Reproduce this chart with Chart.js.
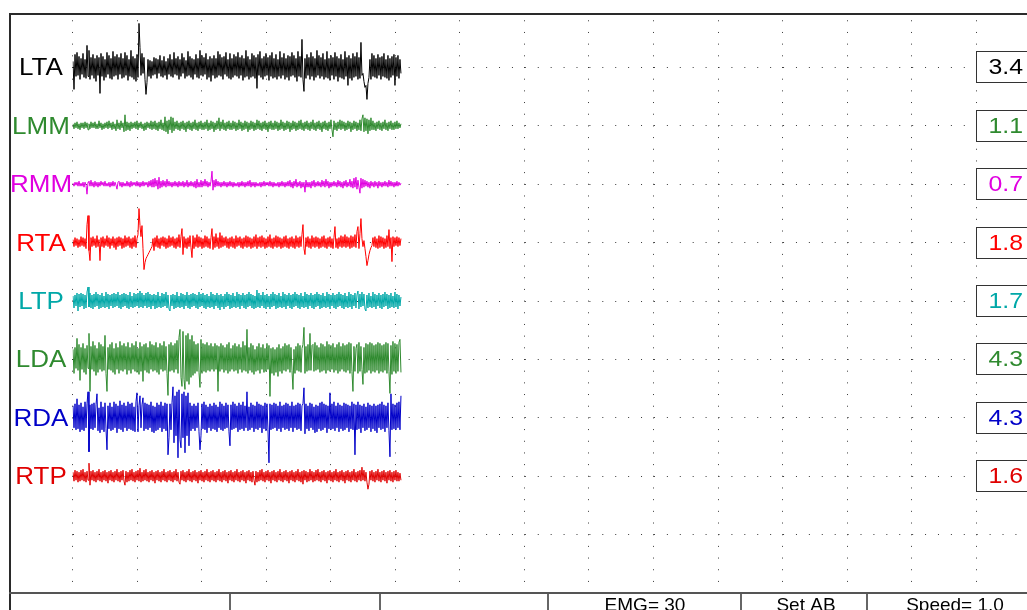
<!DOCTYPE html>
<html><head><meta charset="utf-8">
<script src="https://cdn.jsdelivr.net/npm/chart.js@4/dist/chart.umd.min.js"></script>
<style>html,body{margin:0;padding:0;background:#fff;overflow:hidden}canvas{display:block}</style>
</head><body>
<canvas id="c" width="1027" height="610"></canvas>
<script>
// ---- data ----
const channels = ['LTA','LMM','RMM','RTA','LTP','LDA','RDA','RTP'];
const channelColors = ['#000000','#2f8a2f','#e000e0','#ff0000','#00a8a8','#2f8a2f','#0000c8','#e00000'];
const rmsValues = ['3.4','1.1','0.7','1.8','1.7','4.3','4.3','1.6'];
const statusLabels = ['EMG= 30','Set AB','Speed= 1.0'];
const baselines = [9,8,7,6,5,4,3,2];          // divisions from the bottom
const UNITS_PER_DIV = 58.4;                   // amplitude units per division
const T0 = 1.007, DT = 0.01549;               // sweep start and sample interval (divisions)

const LTA = [6,-22,13,-9,15,-8,11,-12,9,-7,14,-10,8,-11,22,-9,17,-12,10,-8,
13,-11,9,-14,12,-8,10,-26,14,-9,11,-13,8,-10,15,-7,12,-11,9,-12,
16,-9,11,-8,13,-12,10,-7,14,-11,9,-10,15,-8,12,-13,8,-9,17,-10,
11,-12,9,-14,13,-10,44,20,-8,14,-6,10,-12,-27,-15,8,-9,7,-11,6,
-8,10,-7,9,-11,8,-6,12,-9,7,-10,11,-8,6,-12,9,-7,13,-9,8,
-10,15,-7,9,-8,11,-12,8,-9,14,-6,10,-11,7,-9,16,-8,11,-10,9,
-12,8,-7,13,-10,9,-11,17,-8,12,-9,10,-7,14,-12,8,-10,11,-14,9,
-8,12,-11,9,-10,16,-8,13,-9,10,-12,11,-7,15,-9,8,-11,14,-12,9,
-10,13,-8,11,-9,15,-11,10,-8,12,-13,9,-10,17,-9,11,-12,8,-10,14,
-9,12,-11,10,-21,13,-8,16,-10,9,-12,11,-9,14,-8,10,-13,12,-9,15,
-11,9,-10,13,-12,8,-9,16,-11,10,-8,14,-12,9,-10,12,-13,11,-9,15,
-8,12,-10,9,-14,16,-9,11,-10,28,-12,-24,9,-11,13,-8,10,-12,15,-9,
11,-13,9,-10,17,-8,12,-11,10,-9,14,-12,8,-10,16,-11,9,-13,12,-8,
10,-12,15,-9,11,-14,9,-10,13,-11,8,-12,16,-9,10,-18,12,-11,9,-13,
14,-10,11,-9,15,-12,10,-11,25,-8,-6,-14,-20,-18,-32,-16,-10,8,-12,14,
-9,12,-10,9,-11,13,-8,10,-12,11,-9,14,-10,8,-11,12,-13,9,-10,11,
-8,13,-18,10,-9,12,-11,8,-6];
const LMM = [2,-3,3,-2,4,-3,2,-4,3,-2,3,-3,4,-2,3,-4,2,-3,4,-2,
3,-2,4,-3,2,-3,5,-2,3,-4,2,-3,3,-2,4,-3,5,-2,3,-4,
4,-3,2,-5,6,-3,3,-4,5,-2,3,-6,11,-5,4,-4,3,-5,4,-3,
3,-2,4,-3,5,-4,3,-2,4,-3,2,-5,3,-4,4,-2,3,-3,5,-4,
4,-3,5,-4,3,-5,4,-3,6,-4,3,-5,9,-6,5,-8,6,-4,9,-7,
8,-5,4,-3,5,-4,3,-5,4,-3,5,-4,3,-6,4,-3,5,-4,3,-5,
4,-3,6,-4,3,-5,4,-3,5,-4,3,-4,4,-3,6,-5,3,-4,5,-3,
4,-6,3,-4,5,-3,8,-5,4,-3,6,-4,3,-5,4,-3,5,-4,3,-4,
5,-3,4,-5,3,-4,6,-3,4,-5,3,-4,5,-3,4,-6,3,-4,5,-3,
4,-5,3,-4,6,-3,5,-4,3,-5,4,-3,5,-4,3,-6,4,-3,5,-4,
3,-4,5,-3,4,-5,3,-4,6,-3,4,-5,3,-4,5,-3,4,-6,3,-4,
5,-3,4,-5,3,-4,5,-3,6,-4,3,-5,4,-3,5,-4,3,-5,4,-3,
6,-4,3,-5,4,-3,5,-4,3,-6,4,-3,5,-4,3,-5,4,-3,6,-4,
-11,5,-4,3,-5,4,-3,6,-4,5,-3,4,-5,3,-4,5,-3,4,-6,3,
-4,5,-3,4,-5,3,-4,6,-5,7,11,-6,8,-5,7,-8,6,-5,8,-4,
5,-4,3,-5,4,-3,5,-4,3,-5,4,-3,6,-4,3,-5,4,-3,5,-4,
3,-4,4,-3,5,-3,3,-2,2];
const RMM = [1,-2,2,-1,2,-2,3,-2,1,-2,2,-3,2,-1,-10,2,3,-2,4,-2,
2,-3,3,-2,2,-3,2,-2,3,-1,2,-2,3,-2,1,-2,2,-3,2,-2,
3,-2,2,-1,-5,2,3,-2,2,-3,2,-2,1,-2,3,-2,2,-3,3,-2,
2,-1,2,-2,3,-2,2,-3,2,-2,3,-2,2,-1,2,-3,3,-2,4,-3,
5,-3,6,-2,4,-5,7,-4,3,-3,4,-2,3,-3,5,-2,3,-2,2,-3,
2,-2,3,-2,2,-3,3,-2,2,-2,3,-3,2,-2,4,-3,2,-2,3,-2,
2,-3,3,-4,5,-3,2,-3,4,-3,3,-2,5,-2,3,-3,2,-2,3,13,
-6,4,-3,5,-2,3,-2,2,-3,2,-2,3,-2,2,-3,2,-2,3,-2,2,
-3,2,-2,1,-2,2,-3,2,-2,3,-2,2,-3,2,-2,3,-2,4,-3,2,
-2,2,-3,2,-2,1,-2,2,-3,2,-2,3,-2,2,-1,2,-2,3,-2,2,
-3,2,-2,1,-2,2,-3,2,-2,3,-2,2,-3,2,-2,3,-2,4,-3,2,
-4,3,-2,5,-3,2,-2,3,-4,2,-3,2,-8,4,-3,2,-3,2,-4,3,
-2,4,-3,2,-2,3,-2,2,-3,4,-2,3,-3,5,-2,3,-4,2,-3,2,
-2,3,-2,2,-3,4,-2,3,-3,2,-4,3,-2,4,-3,2,-2,5,-3,3,
-4,6,-3,7,-5,4,-3,-9,6,-4,5,-3,4,-2,3,-3,2,-4,3,-2,
2,-3,3,-2,2,-4,3,-2,2,-3,2,-2,3,-2,2,-3,4,-2,3,-2,
2,-3,2,-2,3,-2,2,-1,1];
const RTA = [3,-4,5,-3,4,-5,3,-4,6,-3,5,-4,4,-6,18,27,-8,-18,5,-4,
6,-3,4,-5,7,-4,3,-18,5,-4,6,-5,4,-3,7,-4,5,-6,4,-3,
6,-5,4,-7,5,-4,6,-3,5,-6,4,-5,7,-4,5,-3,6,-5,4,-6,
5,-4,7,-5,4,8,34,17,6,17,-6,-27,-20,-16,-14,-12,-10,-8,-6,-4,
4,-8,5,-4,7,-5,4,-6,5,-3,6,-4,5,-6,4,-5,7,-4,5,-3,
6,-5,4,-6,5,-4,8,-5,6,14,-12,6,-5,4,-6,5,-4,7,-5,-15,
7,-6,5,-4,8,-5,6,-4,5,-6,4,-5,7,-4,6,-5,4,-6,5,14,
-7,6,-5,9,-4,5,-6,10,-5,7,-4,5,-3,6,-5,4,-6,5,-4,6,
-5,4,-6,7,-4,5,-3,6,-5,4,-6,5,-4,7,-5,6,-4,5,-6,4,
-5,6,-4,8,-6,5,-4,6,-5,7,-4,5,-6,4,-5,6,-4,8,-5,4,
-6,5,-4,7,-5,6,-4,5,-6,4,-5,6,-4,7,-5,4,-6,5,-4,6,
-5,4,-6,7,-4,5,-5,6,-4,8,18,-6,-12,5,-4,6,-5,4,-6,7,
-4,5,-5,6,-4,5,-6,4,-5,6,-4,7,-5,4,-6,5,-4,6,-5,4,
-6,5,16,-5,4,-6,5,-4,7,-5,6,-4,8,-5,6,-4,5,-6,7,-5,
6,-4,8,-5,11,16,-6,9,24,4,-4,2,-6,-14,-23,-18,-12,-8,-5,-3,
5,-4,6,-5,4,-6,7,-5,6,-4,5,-6,4,-5,7,-4,13,-6,5,-19,
6,-4,5,-3,6,-4,5,-3,4];
const LTP = [5,-7,6,-5,8,-10,7,-6,8,-5,7,-8,6,-7,9,14,-6,8,-7,6,
-8,7,-6,9,-5,7,-8,6,-7,8,-6,5,-7,9,-6,7,-8,6,-5,7,
-7,8,-6,7,-5,9,-7,6,-8,7,-6,8,-5,7,-7,6,-8,9,-6,5,
-7,8,-6,7,-5,8,-7,10,-6,8,-7,6,-5,8,-7,9,-6,7,-8,6,
-5,7,-8,6,-7,9,-6,5,-7,8,-6,7,-5,9,-7,6,-8,-10,6,-5,
7,-8,6,-7,9,-6,5,-7,8,-6,7,-8,6,-5,9,-7,6,-8,7,-6,
8,-5,7,-7,6,-8,9,-6,7,-5,8,-7,6,-8,7,-6,5,-7,9,-6,
7,-8,6,-5,8,-7,6,-9,7,-6,5,-8,7,-6,9,-5,7,-8,6,-7,
8,-6,5,-7,9,-6,7,-8,6,-5,8,-7,6,-8,7,-6,9,-5,7,-7,
6,-8,5,-7,11,-6,8,-7,6,-5,9,-7,6,-8,7,-6,5,-8,7,-6,
9,-5,7,-8,6,-7,8,-6,5,-7,9,-6,7,-8,6,-5,8,-7,6,-8,
7,-6,9,-5,7,-7,6,-8,8,-6,5,-7,9,-6,7,-8,6,-5,8,-7,
6,-8,7,-6,9,-5,7,-8,6,-7,8,-6,5,-7,9,-6,7,-8,6,-5,
8,-7,6,-8,7,-6,9,-5,7,-7,6,-8,8,-6,5,-7,9,-6,7,-8,
6,-5,8,-7,6,10,-8,7,-6,9,-5,7,-8,-10,6,-7,8,-6,5,-7,
9,-6,7,-8,6,-5,8,-7,6,-8,7,-6,9,-5,7,-8,6,-7,8,-6,
5,-7,9,-6,7,-8,6,-5,4];
const LDA = [10,-14,12,-9,21,-11,15,-21,12,-10,16,-13,11,-15,14,-9,26,-32,13,-10,
18,-12,14,-16,11,-13,17,-10,15,-12,13,-11,24,-14,-32,12,-10,15,-11,17,
-13,11,-15,16,-10,12,-14,18,-11,14,-12,16,-10,13,-15,17,-11,12,-14,16,
-10,14,-12,18,-13,11,-15,17,-12,13,-22,15,-11,16,-13,12,-14,18,-10,15,
-12,14,-11,17,-13,12,-15,16,-10,14,-12,18,-11,13,-14,-36,15,-12,17,-11,
14,-13,16,-10,19,-14,22,30,-18,-27,28,-20,-30,24,-22,26,-25,20,-18,24,
-16,18,-14,15,-12,16,-13,-28,20,-14,16,-12,15,-13,17,-11,14,-12,16,-10,
13,-12,16,-10,14,-32,13,-12,16,-10,14,-13,12,-11,15,-14,17,-12,11,-10,
14,-12,16,-11,13,-14,15,-10,12,-13,18,-11,14,-12,30,-14,12,-11,16,-13,
14,-15,10,-12,13,-11,16,-14,12,-10,15,-13,11,-12,16,-10,14,-37,11,-14,
12,-16,10,-13,12,-17,15,-12,11,-14,13,-11,16,-12,14,-10,15,-13,12,-11,
-30,10,-14,13,-11,16,-12,14,-13,11,15,32,-14,13,-12,15,-11,26,-11,14,
15,-12,17,-11,14,-10,12,-13,16,-12,15,-11,13,-14,18,-11,15,-12,14,-10,
16,-13,12,-11,15,-14,17,-12,13,-10,16,-12,14,-13,15,-11,17,-14,16,-12,
-32,13,-12,11,15,-14,17,-12,13,-10,-25,12,-14,16,-13,15,-11,17,-14,16,
-12,14,-13,15,-11,17,-14,16,-12,14,-13,15,-11,17,-14,16,-12,-34,14,-15,
18,-12,16,-14,15,-12,17,20,-13];
const RDA = [12,-10,14,-12,19,-11,13,-14,15,-12,11,-13,16,-10,14,26,-34,13,-11,14,
-12,15,-10,13,24,-13,10,-15,16,-12,11,-14,15,-11,-32,12,-11,15,-13,11,
-12,16,-10,14,-15,12,-11,17,-12,13,-14,15,-10,12,-13,16,-11,14,-12,15,
-13,11,-14,16,25,-14,12,22,-10,13,20,-13,15,-11,14,-12,13,-10,16,-14,
12,-15,11,-13,15,-12,13,-10,16,-14,12,-11,15,-13,14,-37,-20,14,-12,15,
31,-25,22,-18,26,-40,28,-22,-30,24,-20,26,-35,22,-18,25,-28,15,-13,12,
-11,14,-13,12,-10,15,-14,-32,-18,14,-11,16,-12,13,-15,11,-10,14,-13,12,
-11,15,-12,13,-14,11,-10,16,-12,14,-13,12,-11,15,-10,13,-14,-28,13,-12,
16,-11,14,-10,12,-14,15,-12,13,-11,16,-13,12,-10,26,-13,11,-12,15,-10,
13,-14,12,-11,16,-12,14,-10,13,-15,12,-11,15,-13,14,-12,-45,14,-12,13,
-11,15,-10,14,-13,12,-11,16,-14,12,-10,13,-12,15,-11,14,-13,12,-10,16,
-14,12,-10,13,-12,15,-11,14,-13,12,14,30,-16,14,-11,12,-13,15,-10,14,
-12,11,-15,13,-14,12,-11,15,-13,16,-12,14,-10,13,-15,12,-11,25,-12,14,
-11,16,-13,12,-10,15,-14,13,-11,12,-13,15,-12,14,-10,13,-14,12,-11,16,
-12,14,-37,13,-12,16,-11,13,-15,12,-10,14,-13,11,-12,15,-10,13,-14,12,
-11,14,-13,12,-15,13,-10,14,-12,16,-11,13,-14,12,-10,15,-13,-39,24,-12,
14,-11,13,-12,15,-10,16,-12,22];
const RTP = [4,-5,6,-4,5,-6,4,-5,6,-4,7,-5,4,-6,5,-4,13,-9,5,-4,
6,-5,4,-6,5,-4,7,-5,4,-6,5,-4,6,-5,4,-7,5,-4,6,-5,
4,-6,5,-4,7,-5,4,-6,5,-4,6,-5,-9,5,-6,4,-5,6,-4,7,
-5,4,-6,5,-4,6,-5,8,-6,4,-5,6,-4,7,-5,4,-6,5,-4,6,
-5,4,-7,5,-4,6,-5,4,-6,5,-4,7,-5,4,-6,5,-4,6,-5,4,
-6,5,-4,7,-5,4,-6,-8,5,-4,6,-5,4,-6,5,-4,7,-5,4,-6,
5,-4,6,-5,4,-7,5,-4,6,-5,4,-6,5,-4,7,-5,4,-6,5,-4,
6,-5,4,-6,5,-4,7,-5,4,-6,5,-4,6,-5,4,-7,5,-4,6,-5,
4,-6,5,-4,7,-5,4,-6,5,-4,6,-5,4,-7,5,-4,6,-5,4,-6,
5,-4,-9,5,-6,4,-5,6,-4,7,-5,4,-6,5,-4,6,-5,4,-7,5,
-4,6,-5,4,-6,5,-4,7,-5,4,-6,5,-4,6,-5,4,-7,5,-4,6,
-5,4,-6,5,-4,7,-5,4,-6,5,-8,6,-4,5,-6,4,-5,7,-4,5,
-6,4,-5,6,-4,7,-5,4,-6,5,-4,6,-5,4,-7,5,-4,6,-5,4,
-6,5,-4,7,-5,4,-6,5,-4,6,-5,4,-7,5,-4,6,-5,4,-6,5,
-4,7,-5,4,-6,5,-4,6,-5,9,-4,6,-5,4,-6,-13,-8,5,-4,6,
-5,4,-6,5,-4,7,-5,4,-6,5,-4,6,-5,4,-7,5,-4,6,-5,4,
-6,5,-4,6,-5,4,-5,3,-4];
const traces = [LTA, LMM, RMM, RTA, LTP, LDA, RDA, RTP];

const GRID_X = [1,2,3,4,5,6,7,8,9,10,11,12,13,14,15];
const GRID_Y = [1,2,3,4,5,6,7,8,9];

// ---- geometry of the display ----
const LEFT = 72.55, TOP = 14, BOTTOM = 593, W = 1027, H = 610;
const DIV_X = 64.55, DIV_Y = 58.4;
const X_MAX = 1 + (W - LEFT) / DIV_X;
const Y_MAX = (BOTTOM - TOP) / DIV_Y;
const TEXT_STRETCH = 1.13;

const datasets = traces.map((arr, k) => ({
  label: channels[k],
  data: arr.map((v, i) => ({x: T0 + i * DT, y: baselines[k] + v / UNITS_PER_DIV})),
  borderColor: channelColors[k],
  borderWidth: 1,
  pointRadius: 0,
  tension: 0,
  fill: false
}));

function stretchedText(ctx, txt, x, y, align) {
  ctx.save();
  ctx.translate(x, y);
  ctx.scale(TEXT_STRETCH, 1);
  ctx.textAlign = align;
  ctx.fillText(txt, 0, 0);
  ctx.restore();
}

const decor = {
  id: 'decor',
  afterDraw(chart) {
    const ctx = chart.ctx, xs = chart.scales.x, ys = chart.scales.y;
    ctx.save();
    ctx.textBaseline = 'alphabetic';
    // channel names
    ctx.font = '23px "Liberation Sans", Arial, sans-serif';
    channels.forEach((name, k) => {
      const y = Math.round(ys.getPixelForValue(baselines[k]));
      ctx.fillStyle = channelColors[k];
      stretchedText(ctx, name, 41, y + 8, 'center');
    });
    // value boxes
    const bx = Math.round(xs.getPixelForValue(15)) + 0.5;
    ctx.font = '22px "Liberation Sans", Arial, sans-serif';
    rmsValues.forEach((val, k) => {
      const y = Math.round(ys.getPixelForValue(baselines[k]));
      ctx.fillStyle = '#fff';
      ctx.fillRect(bx, y - 16, 60, 31);
      ctx.strokeStyle = '#333';
      ctx.lineWidth = 1;
      ctx.strokeRect(bx, y - 16 + 0.5, 60, 31);
      ctx.fillStyle = channelColors[k];
      stretchedText(ctx, val, bx + 12, y + 7, 'left');
    });
    // frame
    ctx.fillStyle = '#fff';
    ctx.fillRect(0, 0, W, 13);
    ctx.fillStyle = '#2a2a2a';
    ctx.fillRect(9, 13, W - 9, 2);
    ctx.fillRect(9, 13, 2, H - 13);
    ctx.fillStyle = '#555';
    ctx.fillRect(9, 592, W - 9, 2);
    ctx.fillStyle = '#666';
    [229, 379, 547, 740, 866].forEach(x => ctx.fillRect(x, 594, 2, H - 594));
    // status text
    ctx.fillStyle = '#000';
    ctx.textAlign = 'center';
    ctx.font = '19px "Liberation Sans", Arial, sans-serif';
    [645, 806, 955].forEach((x, i) => ctx.fillText(statusLabels[i], x, 611));
    ctx.restore();
  }
};

new Chart(document.getElementById('c'), {
  type: 'line',
  data: {datasets},
  options: {
    responsive: false,
    animation: false,
    devicePixelRatio: 1,
    events: [],
    layout: {padding: {left: LEFT, right: 0, top: TOP, bottom: H - BOTTOM}},
    plugins: {legend: {display: false}, tooltip: {enabled: false}},
    scales: {
      x: {
        type: 'linear', min: 1, max: X_MAX,
        afterBuildTicks: s => { s.ticks = GRID_X.map(v => ({value: v})); },
        ticks: {display: false},
        grid: {color: '#3a3a3a', lineWidth: 1, drawTicks: false},
        border: {display: false, dash: [1, 10.68], dashOffset: 5.4}
      },
      y: {
        type: 'linear', min: 0, max: Y_MAX,
        afterBuildTicks: s => { s.ticks = GRID_Y.map(v => ({value: v})); },
        ticks: {display: false},
        grid: {color: '#3a3a3a', lineWidth: 1, drawTicks: false},
        border: {display: false, dash: [1, 11.91], dashOffset: 0}
      }
    }
  },
  plugins: [decor]
});
</script>
</body></html>
